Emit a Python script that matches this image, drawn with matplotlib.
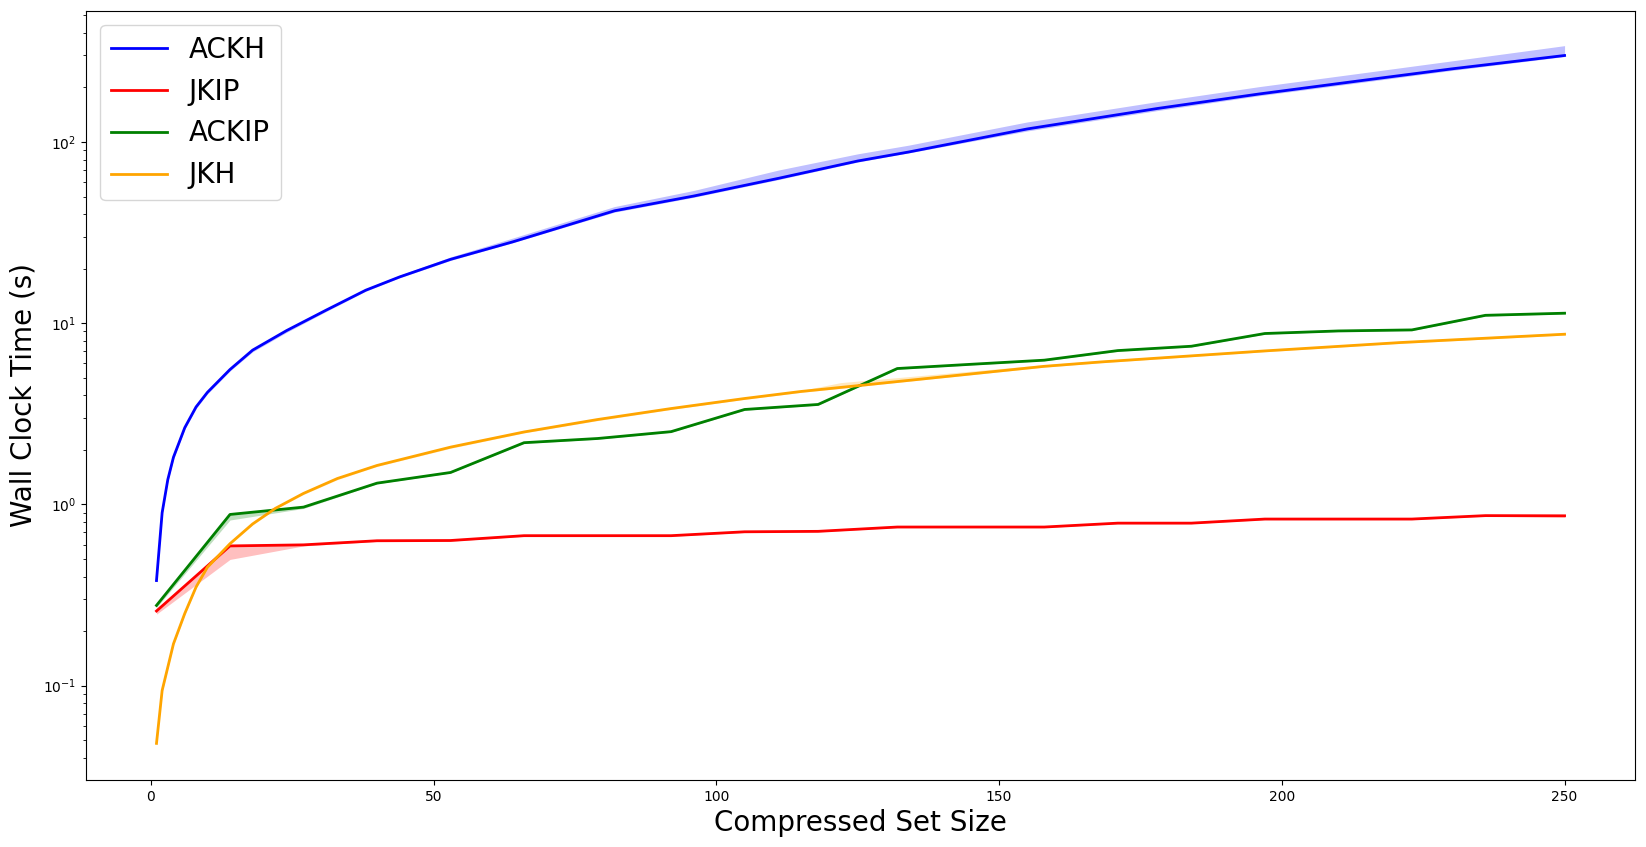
import numpy as np
import matplotlib
matplotlib.use("Agg")
import matplotlib.pyplot as plt

# ACKH (smooth, many sizes)
ackh_x = [1, 2, 3, 4, 6, 8, 10, 14, 18, 24, 31, 38, 44, 53, 64, 82, 96, 111, 125, 134, 155, 178, 196, 214, 230, 250]
ackh_mean = [0.38, 0.9, 1.37, 1.82, 2.65, 3.45, 4.15, 5.55, 7.1, 9.1, 11.8, 15.2, 18.0, 22.5, 28.1, 41.7, 50.3, 63.0, 78.5, 88.0, 118.0, 153.0, 184.0, 218.0, 253.0, 300.0]
ackh_low = [0.37, 0.88, 1.34, 1.78, 2.6, 3.38, 4.07, 5.45, 6.95, 8.9, 11.6, 15.0, 17.8, 22.2, 27.8, 41.0, 49.5, 62.0, 77.5, 87.0, 115.0, 149.0, 180.0, 213.0, 248.0, 296.0]
ackh_high = [0.39, 0.92, 1.4, 1.85, 2.7, 3.5, 4.2, 5.62, 7.2, 9.25, 12.0, 15.5, 18.4, 23.2, 29.5, 44.0, 54.0, 70.0, 86.0, 96.0, 129.0, 167.0, 202.0, 240.0, 280.0, 340.0]

# JKIP / ACKIP (20 sizes)
ip_x = [1, 14, 27, 40, 53, 66, 79, 92, 105, 118, 132, 145, 158, 171, 184, 197, 210, 223, 236, 250]
jkip_mean = [0.258, 0.59, 0.598, 0.63, 0.632, 0.672, 0.672, 0.672, 0.706, 0.71, 0.75, 0.75, 0.75, 0.788, 0.788, 0.83, 0.83, 0.83, 0.867, 0.865]
jkip_low = [0.248, 0.497, 0.59, 0.625, 0.627, 0.667, 0.667, 0.667, 0.70, 0.705, 0.745, 0.745, 0.745, 0.783, 0.783, 0.824, 0.824, 0.824, 0.86, 0.85]
jkip_high = [0.265, 0.595, 0.602, 0.635, 0.637, 0.677, 0.677, 0.677, 0.711, 0.715, 0.755, 0.755, 0.755, 0.793, 0.793, 0.836, 0.836, 0.836, 0.872, 0.87]

ackip_mean = [0.277, 0.88, 0.966, 1.31, 1.50, 2.19, 2.31, 2.52, 3.34, 3.56, 5.62, 5.93, 6.25, 7.06, 7.46, 8.77, 9.06, 9.18, 11.05, 11.35]
ackip_low = [0.27, 0.82, 0.95, 1.30, 1.49, 2.17, 2.29, 2.50, 3.31, 3.53, 5.57, 5.88, 6.2, 7.0, 7.4, 8.7, 9.0, 9.1, 10.95, 11.25]
ackip_high = [0.283, 0.89, 0.975, 1.32, 1.51, 2.21, 2.33, 2.54, 3.37, 3.59, 5.67, 5.98, 6.3, 7.12, 7.52, 8.84, 9.12, 9.26, 11.15, 11.45]

# JKH (smooth)
jkh_x = [1, 2, 4, 6, 8, 10, 14, 18, 22, 27, 33, 40, 53, 66, 79, 92, 105, 115, 122, 158, 168, 197, 221, 250]
jkh_mean = [0.048, 0.094, 0.17, 0.25, 0.35, 0.45, 0.607, 0.78, 0.95, 1.15, 1.39, 1.64, 2.07, 2.51, 2.94, 3.38, 3.84, 4.2, 4.42, 5.78, 6.11, 7.03, 7.82, 8.69]
jkh_low = [0.047, 0.092, 0.167, 0.246, 0.345, 0.444, 0.6, 0.77, 0.94, 1.135, 1.37, 1.62, 2.04, 2.48, 2.9, 3.34, 3.8, 4.15, 4.37, 5.72, 6.05, 6.96, 7.74, 8.6]
jkh_high = [0.049, 0.096, 0.173, 0.254, 0.355, 0.456, 0.615, 0.79, 0.96, 1.165, 1.41, 1.66, 2.1, 2.54, 2.98, 3.42, 3.88, 4.25, 4.7, 5.9, 6.22, 7.13, 7.95, 8.85]

series = [
    ("ACKH", "blue", ackh_x, ackh_mean, ackh_low, ackh_high),
    ("JKIP", "red", ip_x, jkip_mean, jkip_low, jkip_high),
    ("ACKIP", "green", ip_x, ackip_mean, ackip_low, ackip_high),
    ("JKH", "orange", jkh_x, jkh_mean, jkh_low, jkh_high),
]

fig = plt.figure(figsize=(16.46, 8.47), dpi=100)
ax = fig.add_subplot(111)
fig.subplots_adjust(left=0.0523, right=0.9933, top=0.9874, bottom=0.0791)

for name, color, xs, mean, low, high in series:
    ax.plot(xs, mean, color=color, linewidth=2, label=name)
    ax.fill_between(xs, low, high, color=color, alpha=0.25, linewidth=0)

ax.set_yscale("log")
ax.set_xlabel("Compressed Set Size", fontsize=20)
ax.set_ylabel("Wall Clock Time (s)", fontsize=20)
ax.legend(loc="upper left", fontsize=20)

fig.savefig("out.png", dpi=100)
